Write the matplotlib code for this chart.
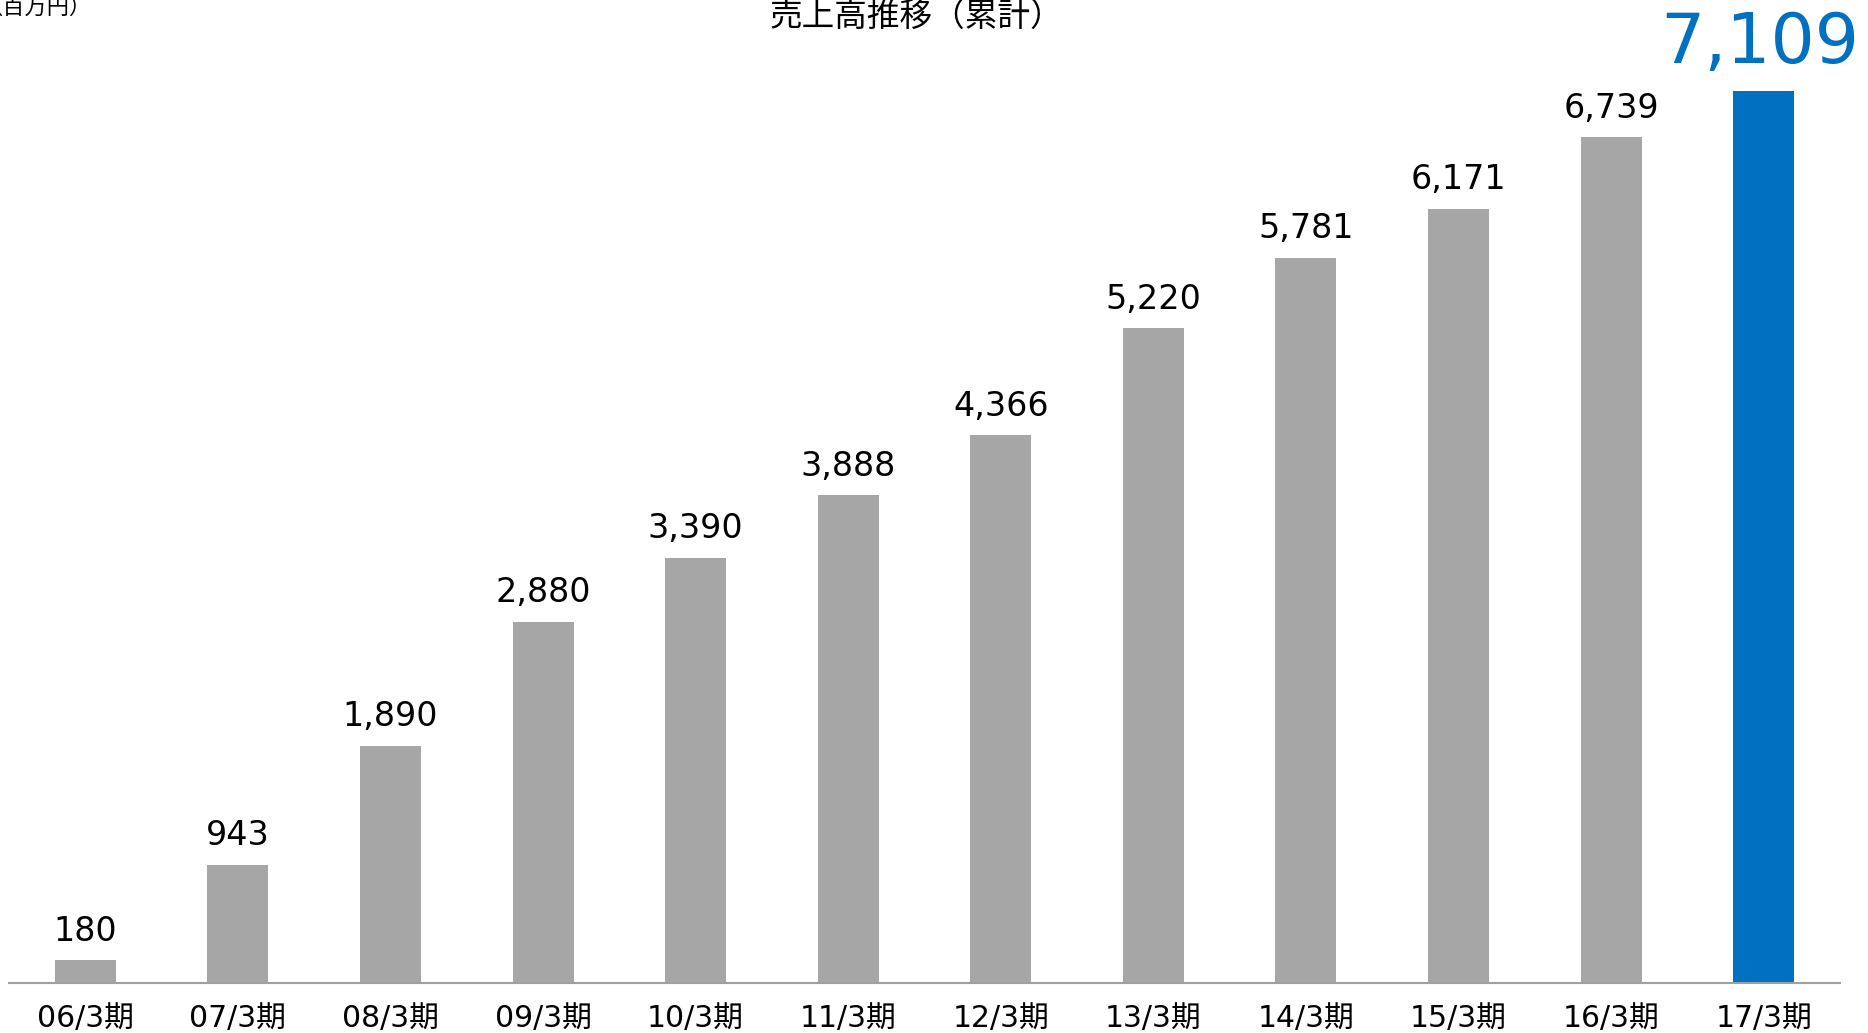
import matplotlib
matplotlib.use('Agg')
import matplotlib.pyplot as plt

# データ（百万円）
periods = ['06/3期', '07/3期', '08/3期', '09/3期', '10/3期', '11/3期',
           '12/3期', '13/3期', '14/3期', '15/3期', '16/3期', '17/3期']
sales = [180, 943, 1890, 2880, 3390, 3888, 4366, 5220, 5781, 6171, 6739, 7109]

fonts = ['DejaVu Sans', 'Noto Sans CJK JP']
plt.rcParams['font.family'] = fonts

gray = '#A6A6A6'
blue = '#0070C0'
colors = [gray] * (len(sales) - 1) + [blue]

fig = plt.figure(figsize=(18.68, 10.33), dpi=100)
ax = fig.add_axes([9 / 1868, 50 / 1033, 1831 / 1868, 983 / 1033])

x = list(range(len(sales)))
ax.bar(x, sales, width=0.4, color=colors)

ax.set_xlim(-0.5, len(sales) - 0.5)
ax.set_ylim(0, 7834)

# 数値ラベル
for i, v in enumerate(sales):
    if i == len(sales) - 1:
        ax.annotate(f'{v:,}', (i, v), xytext=(-3, 20), textcoords='offset points',
                    ha='center', va='baseline', fontsize=50, color=blue)
    else:
        ax.annotate(f'{v:,}', (i, v), xytext=(0, 14), textcoords='offset points',
                    ha='center', va='baseline', fontsize=24, color='black')

ax.set_xticks(x)
ax.set_xticklabels(periods, fontsize=21.5)
ax.tick_params(axis='x', length=0, pad=15)
ax.set_yticks([])
for side in ['top', 'right', 'left']:
    ax.spines[side].set_visible(False)
ax.spines['bottom'].set_color('#A0A0A0')
ax.spines['bottom'].set_linewidth(1.5)

fig.text(916 / 1868, 1 - 2 / 1033, '売上高推移（累計）', ha='center', va='top',
         fontsize=23.5, family=['Noto Sans CJK JP', 'DejaVu Sans'])
fig.text(92 / 1868, 1 - 14 / 1033, '（百万円）', ha='right', va='baseline',
         fontsize=16, family=['Noto Sans CJK JP', 'DejaVu Sans'])

fig.savefig('out.png', dpi=100)
